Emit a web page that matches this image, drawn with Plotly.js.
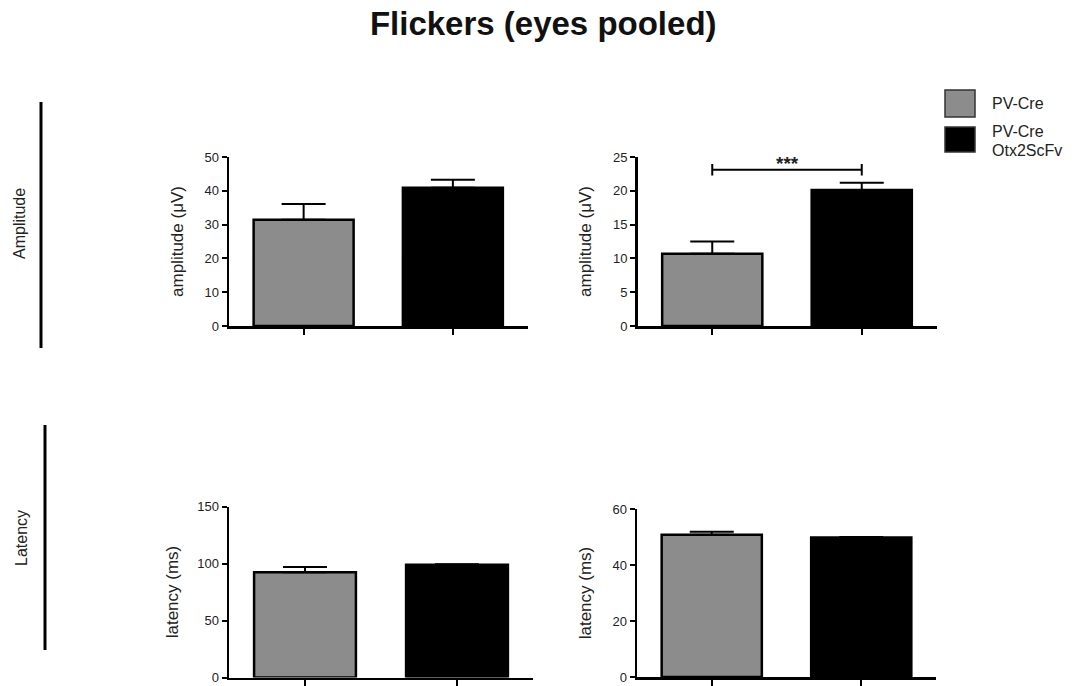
<!DOCTYPE html>
<html>
<head>
<meta charset="utf-8">
<script src="https://cdn.plot.ly/plotly-3.0.1.min.js"></script>
<style>html,body{margin:0;padding:0;background:#fff;}#chart{width:1080px;height:686px;}</style>
</head>
<body>
<div id="chart"></div>
<script>
// ---- data ----
const groups = ["PV-Cre", "PV-Cre Otx2ScFv"];
const legendLines = [["PV-Cre"], ["PV-Cre", "Otx2ScFv"]];
const groupColors = ["#8c8c8c", "#000000"];

const ampLeft = [31.4, 40.9];
const ampLeftErr = [4.7, 2.4];
const ampRight = [10.7, 20.1];
const ampRightErr = [1.8, 1.1];
const latLeft = [92.3, 99.0];
const latLeftErr = [4.6, 0.3];
const latRight = [50.8, 49.8];
const latRightErr = [1.1, 0.2];

const sigPair = ["PV-Cre", "PV-Cre Otx2ScFv"];
const sigY = 23.1;
const sigCap = 0.85;
const sigLabelY = 24.3;
const sigLabel = "***";

const rowLabels = ["Amplitude", "Latency"];
const ampTicks = [[0, 10, 20, 30, 40, 50], [0, 5, 10, 15, 20, 25]];
const latTicks = [[0, 50, 100, 150], [0, 20, 40, 60]];

// ---- style ----
const FONT = "Liberation Sans, Arial, sans-serif";
const W = 1080, H = 686;
const px = v => v / W;
const py = v => 1 - v / H;

function barTrace(vals, errs, ax) {
  return {
    type: "bar",
    x: groups,
    y: vals,
    xaxis: "x" + ax,
    yaxis: "y" + ax,
    width: 0.67,
    marker: { color: groupColors, line: { color: "#000", width: 2.5 } },
    error_y: {
      type: "data", symmetric: false, array: errs, arrayminus: [0, 0],
      color: "#000", thickness: 2, width: 22
    },
    showlegend: false,
    hoverinfo: "x+y"
  };
}

const data = [
  barTrace(ampLeft, ampLeftErr, ""),
  barTrace(ampRight, ampRightErr, "2"),
  barTrace(latLeft, latLeftErr, "3"),
  barTrace(latRight, latRightErr, "4")
];

function xAxis(domain, anchor) {
  return {
    domain: domain, anchor: anchor, type: "category",
    range: [-0.5, 1.5],
    showline: true, linecolor: "#000", linewidth: 2.5,
    ticks: "outside", ticklen: 6, tickwidth: 2, tickcolor: "#000",
    showticklabels: false, showgrid: false, zeroline: false, fixedrange: true
  };
}
function yAxis(domain, anchor, ticks, title, standoff) {
  return {
    domain: domain, anchor: anchor,
    range: [0, ticks[ticks.length - 1]],
    tickvals: ticks,
    showline: true, linecolor: "#000", linewidth: 2.5,
    ticks: "outside", ticklen: 5, tickwidth: 2, tickcolor: "#000",
    tickfont: { family: FONT, size: 13, color: "#222" },
    ticklabeloverflow: "allow",
    showgrid: false, zeroline: false, fixedrange: true,
    title: { text: title, font: { family: FONT, size: 17, color: "#222" }, standoff: standoff }
  };
}

const topDom = [py(326), py(157)];

const shapes = [
  // row group lines
  { type: "line", xref: "paper", yref: "paper", x0: px(41), x1: px(41), y0: py(102), y1: py(348), line: { color: "#000", width: 3 } },
  { type: "line", xref: "paper", yref: "paper", x0: px(45), x1: px(45), y0: py(425), y1: py(650), line: { color: "#000", width: 3 } },
  // significance bracket
  { type: "line", xref: "x2", yref: "y2", x0: sigPair[0], x1: sigPair[1], y0: sigY, y1: sigY, line: { color: "#000", width: 2 } },
  { type: "line", xref: "x2", yref: "y2", x0: sigPair[0], x1: sigPair[0], y0: sigY - sigCap, y1: sigY + sigCap, line: { color: "#000", width: 2 } },
  { type: "line", xref: "x2", yref: "y2", x0: sigPair[1], x1: sigPair[1], y0: sigY - sigCap, y1: sigY + sigCap, line: { color: "#000", width: 2 } }
];

const annotations = [
  { xref: "paper", yref: "paper", x: px(20), y: py(224), text: rowLabels[0], showarrow: false, textangle: -90,
    font: { family: FONT, size: 16, color: "#222" }, xanchor: "center", yanchor: "middle" },
  { xref: "paper", yref: "paper", x: px(21), y: py(538), text: rowLabels[1], showarrow: false, textangle: -90,
    font: { family: FONT, size: 16, color: "#222" }, xanchor: "center", yanchor: "middle" },
  { xref: "x2", yref: "y2", x: 0.5, y: sigLabelY, text: "<b>" + sigLabel + "</b>", showarrow: false, yanchor: "middle", yshift: -2,
    font: { family: FONT, size: 19, color: "#222" } }
];

// custom legend
const legTop = [90, 127];
const legBot = [117, 152];
legendLines.forEach((lines, i) => {
  shapes.push({ type: "rect", xref: "paper", yref: "paper", x0: px(945), x1: px(975), y0: py(legBot[i]), y1: py(legTop[i]),
    fillcolor: groupColors[i], line: { color: "#333", width: 1.5 } });
  lines.forEach((t, j) => {
    const cy = (lines.length === 1) ? (legTop[i] + legBot[i]) / 2 : legTop[i] + 4.5 + j * 18.5;
    annotations.push({ xref: "paper", yref: "paper", x: px(990), y: py(cy), text: t, showarrow: false,
      xanchor: "left", yanchor: "middle", font: { family: FONT, size: 16, color: "#222" } });
  });
});

const layout = {
  width: W, height: H,
  margin: { l: 0, r: 0, t: 0, b: 0 },
  paper_bgcolor: "#fff", plot_bgcolor: "rgba(0,0,0,0)",
  showlegend: false,
  title: { text: "<b>Flickers (eyes pooled)</b>", x: 0.503, xanchor: "center", y: 1 - 23 / H, yanchor: "middle", yref: "container",
    font: { family: FONT, size: 33, color: "#111" } },
  xaxis: xAxis([px(229), px(527.5)], "y"),
  yaxis: yAxis(topDom, "x", ampTicks[0], "amplitude (μV)", 17),
  xaxis2: xAxis([px(637.5), px(936.5)], "y2"),
  yaxis2: yAxis(topDom, "x2", ampTicks[1], "amplitude (μV)", 17),
  xaxis3: xAxis([px(229), px(533)], "y3"),
  yaxis3: yAxis([py(677.5), py(506.5)], "x3", latTicks[0], "latency (ms)", 14),
  xaxis4: xAxis([px(637), px(936)], "y4"),
  yaxis4: yAxis([py(677), py(509)], "x4", latTicks[1], "latency (ms)", 17),
  shapes: shapes,
  annotations: annotations
};

Plotly.newPlot("chart", data, layout, { displayModeBar: false, staticPlot: true });
</script>
</body>
</html>
